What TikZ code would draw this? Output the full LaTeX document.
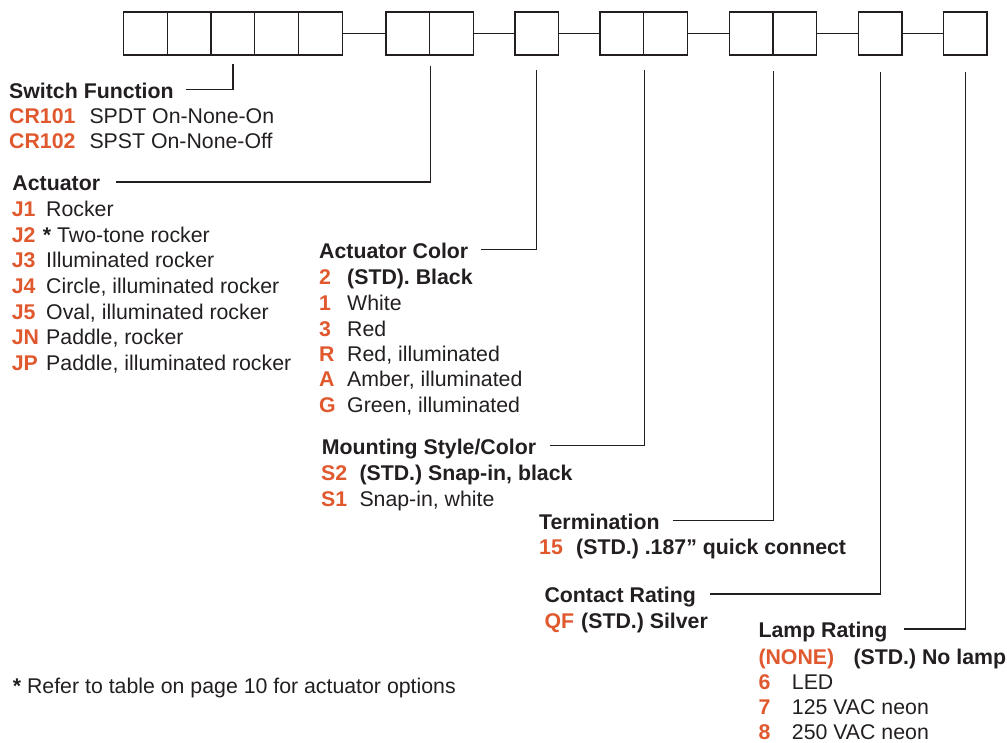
\documentclass[tikz,border=0pt]{standalone}
\usepackage{fontspec}
\setmainfont{Liberation Sans}
\usetikzlibrary{calc}

\definecolor{codeorange}{RGB}{224,88,45}
\definecolor{inkgray}{RGB}{35,31,32}

\begin{document}
\begin{tikzpicture}[x=1pt, y=-1pt,
    every node/.style={inner sep=0pt, anchor=base west, text=inkgray, font=\fontsize{21.3}{25}\selectfont},
    slot/.style={draw=inkgray, line width=1.3pt, minimum width=43.7pt, minimum height=43pt, anchor=center},
    header/.style={font=\fontsize{21.3}{25}\selectfont\bfseries, text height=17.4pt, text depth=0pt},
    code/.style={font=\fontsize{21.3}{25}\selectfont\bfseries, text=codeorange},
    std/.style={font=\fontsize{21.3}{25}\selectfont\bfseries},
    leader/.style={draw=inkgray, line width=1.1pt}]

    % Fix the page size
    \useasboundingbox (0,0) rectangle (1007,742);

    % Part-number boxes
    \node[slot] (b1) at (145.55,33.5) {};
    \node[slot] (b2) at (189.25,33.5) {};
    \node[slot] (b3) at (232.95,33.5) {};
    \node[slot] (b4) at (276.65,33.5) {};
    \node[slot] (b5) at (320.35,33.5) {};
    \node[slot] (b6) at (407.85,33.5) {};
    \node[slot] (b7) at (451.55,33.5) {};
    \node[slot] (b8) at (536.85,33.5) {};
    \node[slot] (b9) at (621.85,33.5) {};
    \node[slot] (b10) at (665.55,33.5) {};
    \node[slot] (b11) at (751.15,33.5) {};
    \node[slot] (b12) at (794.85,33.5) {};
    \node[slot] (b13) at (880.15,33.5) {};
    \node[slot] (b14) at (965.15,33.5) {};

    % Links between groups
    \draw[leader] (b5.east) -- (b6.west);
    \draw[leader] (b7.east) -- (b8.west);
    \draw[leader] (b8.east) -- (b9.west);
    \draw[leader] (b10.east) -- (b11.west);
    \draw[leader] (b12.east) -- (b13.west);
    \draw[leader] (b13.east) -- (b14.west);

    % Switch function
    \node[header] (swf) at (9,98.3) {Switch Function};
    \node[code] (cr101) at (9,123.3) {CR101};
    \node (cr101d) at (89.3,123.3) {SPDT On-None-On};
    \node[code] (cr102) at (9,148.3) {CR102};
    \node (cr102d) at (89.3,148.3) {SPST On-None-Off};
    \draw[leader] ([xshift=12pt]swf.east) -| ($(b3.south)+(0,8)$);

    % Actuator
    \node[header] (act) at (12.3,190.7) {Actuator};
    \node[code] (j1) at (11.7,216.7) {J1};
    \node (j1d) at (46,216.7) {Rocker};
    \node[code] (j2) at (11.7,242.3) {J2};
    \node (j2d) at (42.7,242.3) {{\bfseries *} Two-tone rocker};
    \node[code] (j3) at (11.7,267.9) {J3};
    \node (j3d) at (46,267.9) {Illuminated rocker};
    \node[code] (j4) at (11.7,293.5) {J4};
    \node (j4d) at (46,293.5) {Circle, illuminated rocker};
    \node[code] (j5) at (11.7,319.1) {J5};
    \node (j5d) at (46,319.1) {Oval, illuminated rocker};
    \node[code] (jn) at (11.7,344.7) {JN};
    \node (jnd) at (46,344.7) {Paddle, rocker};
    \node[code] (jp) at (11.7,370.3) {JP};
    \node (jpd) at (46,370.3) {Paddle, illuminated rocker};
    \draw[leader] ([xshift=16pt]act.east) -| ($(b6.south east)+(0,10)$);

    % Actuator color
    \node[header] (col) at (319,258.3) {Actuator Color};
    \node[code] (c2) at (319,284.3) {2};
    \node[std] (c2d) at (347,284.3) {(STD). Black};
    \node[code] (c1) at (319,310) {1};
    \node (c1d) at (347,310) {White};
    \node[code] (c3) at (319,336) {3};
    \node (c3d) at (347,336) {Red};
    \node[code] (cr) at (319,361.7) {R};
    \node (crd) at (347,361.7) {Red, illuminated};
    \node[code] (ca) at (319,386.7) {A};
    \node (cad) at (347,386.7) {Amber, illuminated};
    \node[code] (cg) at (319,412.7) {G};
    \node (cgd) at (347,412.7) {Green, illuminated};
    \draw[leader] ([xshift=12pt]col.east) -| ($(b8.south)+(0,14)$);

    % Mounting style
    \node[header] (mnt) at (321.7,454) {Mounting Style/Color};
    \node[code] (s2) at (321,480) {S2};
    \node[std] (s2d) at (359.3,480) {(STD.) Snap-in, black};
    \node[code] (s1) at (321,506) {S1};
    \node (s1d) at (359.3,506) {Snap-in, white};
    \draw[leader] ([xshift=14pt]mnt.east) -| ($(b9.south east)+(0,14)$);

    % Termination
    \node[header] (trm) at (539,529.3) {Termination};
    \node[code] (t15) at (539,554.3) {15};
    \node[std] (t15d) at (576,554.3) {(STD.) .187” quick connect};
    \draw[leader] ([xshift=13pt]trm.east) -| ($(b11.south east)+(0,15)$);

    % Contact rating
    \node[header] (con) at (544.3,602.7) {Contact Rating};
    \node[code] (qf) at (544.3,628.3) {QF};
    \node[std] (qfd) at (581,628.3) {(STD.) Silver};
    \draw[leader] ([xshift=14pt]con.east) -| ($(b13.south)+(0,16)$);

    % Lamp rating
    \node[header] (lmp) at (758.3,637.7) {Lamp Rating};
    \node[code] (none) at (758.3,664.5) {(NONE)};
    \node[std] (noned) at (853.3,664.5) {(STD.) No lamp};
    \node[code] (l6) at (758.3,689.5) {6};
    \node (l6d) at (791.7,689.5) {LED};
    \node[code] (l7) at (758.3,714.5) {7};
    \node (l7d) at (791.7,714.5) {125 VAC neon};
    \node[code] (l8) at (758.3,739.3) {8};
    \node (l8d) at (791.7,739.3) {250 VAC neon};
    \draw[leader] ([xshift=16pt]lmp.east) -| ($(b14.south)+(0,16)$);

    % Footnote
    \node (note) at (12.7,693.3) {{\bfseries *} Refer to table on page 10 for actuator options};
\end{tikzpicture}
\end{document}
